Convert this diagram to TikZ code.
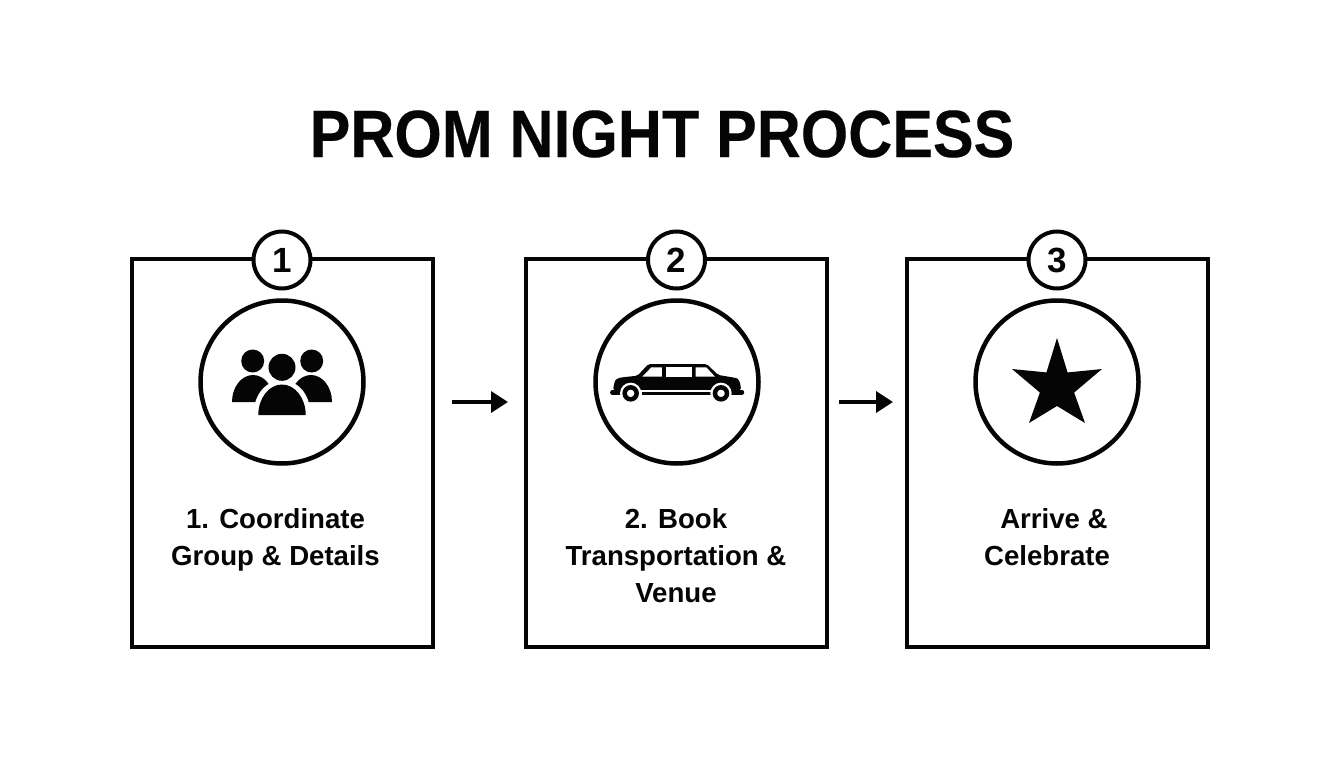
\documentclass[tikz,border=0pt]{standalone}
\usepackage{fontspec}
\setmainfont{Liberation Sans}
\newfontfamily\titlefont[FakeStretch=0.91,BoldFeatures={FakeBold=0.25}]{Liberation Sans}
\usetikzlibrary{arrows.meta}
\definecolor{ink}{HTML}{050505}
\tikzset{
  panel/.style={draw=ink,fill=white,line width=4.2pt,minimum width=301pt,minimum height=388pt,inner sep=0pt},
  badge/.style={circle,draw=ink,fill=white,line width=4pt,minimum size=57pt,inner sep=0pt,font=\fontsize{35}{35}\selectfont\bfseries,text=ink},
  disc/.style={circle,draw=ink,fill=white,line width=4.5pt,minimum size=163pt,inner sep=0pt},
  steplabel/.style={align=center,inner sep=0pt,text=ink,font=\fontsize{27.6}{37}\selectfont\bfseries},
  flow/.style={draw=ink,line width=3.5pt,-{Triangle[length=17pt,width=21pt]}},
  titletext/.style={inner sep=0pt,text=ink,font=\fontsize{67}{67}\selectfont\titlefont\bfseries}
}
\begin{document}
\begin{tikzpicture}[x=1pt,y=-1pt]
\useasboundingbox (0,0) rectangle (1344,768);
\fill[white] (0,0) rectangle (1344,768);
\node[titletext] (title) at (662,134) {PROM NIGHT PROCESS};

\node[panel] (p1) at (282.5,452.6) {};
\node[panel] (p2) at (676.5,452.6) {};
\node[panel] (p3) at (1057.5,452.6) {};
\node[badge] (b1) at (282,260) {1};
\node[badge] (b2) at (676.5,260) {2};
\node[badge] (b3) at (1057,260) {3};
\node[disc] (d1) at (282,382) {};
\node[disc] (d2) at (677,382) {};
\node[disc] (d3) at (1057,382) {};

\node[steplabel] (l1) at (275.5,540) {1. Coordinate\\Group \& Details};
\node[steplabel] (l2) at (676,556) {2. Book\\Transportation \&\\Venue};
\node[steplabel] (l3) at (1047,537) {\hspace*{14pt}Arrive \&\\Celebrate};

\coordinate (a1s) at (452,402);
\coordinate (a1e) at (508,402);
\coordinate (a2s) at (839,402);
\coordinate (a2e) at (893,402);
\draw[flow] (a1s) -- (a1e);
\draw[flow] (a2s) -- (a2e);

% people icon
\fill[ink] (252.7,361) circle (11.5);
\fill[ink] (311.7,361) circle (11.5);
\fill[ink] (232,402) arc[start angle=180,end angle=360,x radius=21,y radius=27] -- cycle;
\fill[ink] (332,402) arc[start angle=0,end angle=-180,x radius=21,y radius=27] -- cycle;
\fill[white] (254,416) -- (254,412) arc[start angle=180,end angle=360,x radius=28,y radius=32] -- (310,416) -- cycle;
\fill[white] (282,367.3) circle (16.5);
\fill[ink] (282,367.3) circle (13.5);
\fill[ink] (258.3,415) arc[start angle=180,end angle=360,x radius=23.7,y radius=30.5] -- cycle;

% limousine icon
\begin{scope}[shift={(585,340)},x=0.3333pt,y=-0.3333pt]
  \fill[ink,rounded corners=2pt] (84,150) -- (88,128) .. controls (92,118) and (100,114) .. (112,112) -- (158,107) -- (190,72) -- (365,72) -- (400,105) -- (448,113) .. controls (460,116) and (466,124) .. (468,150) -- cycle;
  \fill[white] (172,110) -- (199,82) -- (231,82) -- (231,110) -- cycle;
  \fill[white] (243,82) -- (320,82) -- (320,110) -- (243,110) -- cycle;
  \fill[white] (332,82) -- (364,82) -- (390,110) -- (332,110) -- cycle;
  \fill[white] (70,152) rectangle (480,172);
  \draw[ink,line width=4.5pt,line cap=round] (82,157) -- (110,157);
  \draw[ink,line width=4.5pt,line cap=round] (440,157) -- (471,157);
  \draw[ink,line width=3pt] (170,160) -- (380,160);
  \fill[white] (137,160) circle (32);
  \fill[white] (408,160) circle (32);
  \draw[ink,line width=4.5pt] (137,160) circle (18);
  \draw[ink,line width=4.5pt] (408,160) circle (18);
\end{scope}

% star icon
\fill[ink] (1057,338)
  -- ({1057+18*sin(36)},{387-18*cos(36)})
  -- (1102,369)
  -- ({1057+18*sin(108)},{387-18*cos(108)})
  -- (1085,423)
  -- (1057,406)
  -- (1029,423)
  -- ({1057-18*sin(108)},{387-18*cos(108)})
  -- (1012,369)
  -- ({1057-18*sin(36)},{387-18*cos(36)})
  -- cycle;
\end{tikzpicture}
\end{document}
